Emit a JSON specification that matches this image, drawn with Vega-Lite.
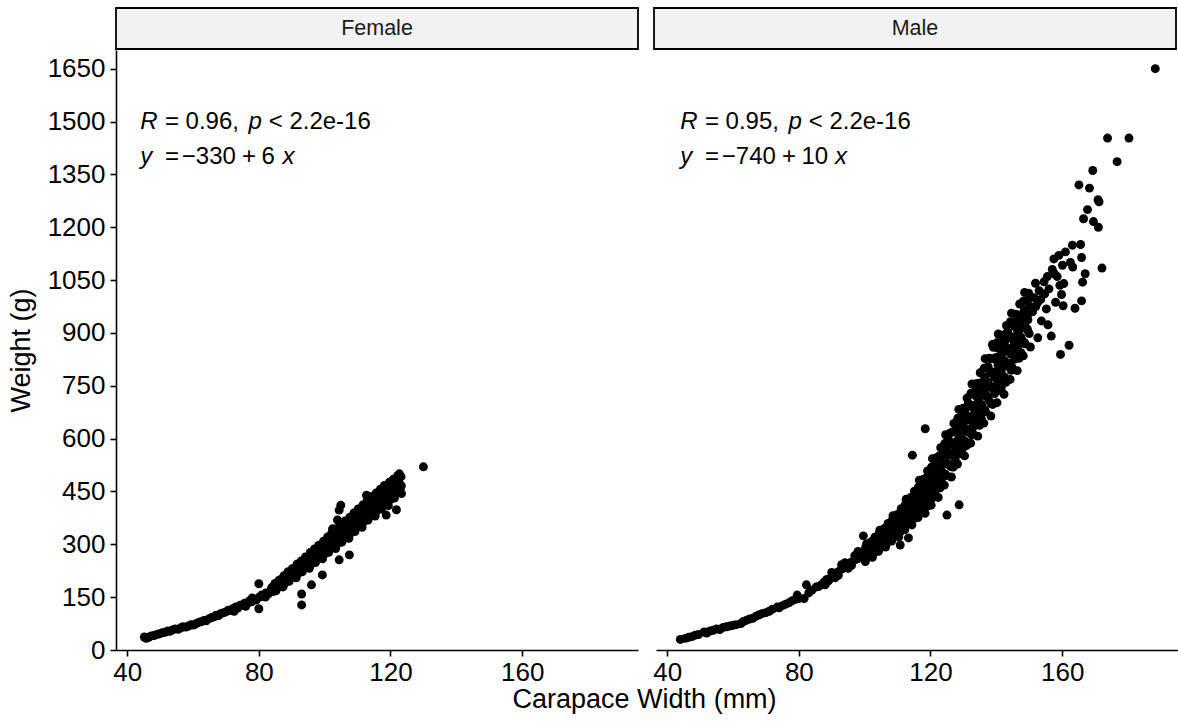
{
"$schema": "https://vega.github.io/schema/vega-lite/v6.json",
"background": "white",
"padding": {"left": 7, "right": 2, "top": 7, "bottom": 4},
"config": {
  "font": "Liberation Sans",
  "view": {"stroke": null},
  "axis": {"domainColor": "black", "domainWidth": 1.6, "tickColor": "black", "tickWidth": 1.6, "tickSize": 6, "labelColor": "black", "labelFontSize": 26, "titleFontSize": 27, "titleFontWeight": "normal", "titleColor": "black", "grid": false}
},
"title": {"text": "Carapace Width (mm)", "orient": "bottom", "anchor": "middle", "fontSize": 27, "fontWeight": "normal", "color": "black", "offset": 2, "dx": 52},
"datasets": {
"strips": [{"sex": "Female"}, {"sex": "Male"}],
"notes": [
{"sex":"F","kind":"var","cw":43.95,"wt":1500,"label":"R"},
{"sex":"F","kind":"txt","cw":51.45,"wt":1500,"label":"= 0.96,"},
{"sex":"F","kind":"var","cw":76.85,"wt":1500,"label":"p"},
{"sex":"F","kind":"txt","cw":83.0,"wt":1500,"label":"< 2.2e-16"},
{"sex":"F","kind":"var","cw":43.95,"wt":1400,"label":"y"},
{"sex":"F","kind":"txt","cw":51.45,"wt":1400,"label":"="},
{"sex":"F","kind":"txt","cw":56.6,"wt":1400,"label":"−330"},
{"sex":"F","kind":"txt","cw":74.9,"wt":1400,"label":"+"},
{"sex":"F","kind":"txt","cw":80.8,"wt":1400,"label":"6"},
{"sex":"F","kind":"var","cw":87.2,"wt":1400,"label":"x"},
{"sex":"M","kind":"var","cw":43.95,"wt":1500,"label":"R"},
{"sex":"M","kind":"txt","cw":51.45,"wt":1500,"label":"= 0.95,"},
{"sex":"M","kind":"var","cw":76.85,"wt":1500,"label":"p"},
{"sex":"M","kind":"txt","cw":83.0,"wt":1500,"label":"< 2.2e-16"},
{"sex":"M","kind":"var","cw":43.95,"wt":1400,"label":"y"},
{"sex":"M","kind":"txt","cw":51.45,"wt":1400,"label":"="},
{"sex":"M","kind":"txt","cw":56.6,"wt":1400,"label":"−740"},
{"sex":"M","kind":"txt","cw":74.9,"wt":1400,"label":"+"},
{"sex":"M","kind":"txt","cw":80.8,"wt":1400,"label":"10"},
{"sex":"M","kind":"var","cw":90.95,"wt":1400,"label":"x"}
],
"crabs": [
{"sex":"F","cw":45.2,"wt":37},{"sex":"F","cw":45.8,"wt":33},{"sex":"F","cw":46.5,"wt":36},{"sex":"F","cw":47.3,"wt":40},{"sex":"F","cw":48.2,"wt":41},{"sex":"F","cw":49,"wt":44},{"sex":"F","cw":49.8,"wt":46},{"sex":"F","cw":50.7,"wt":49},{"sex":"F","cw":51.5,"wt":50},{"sex":"F","cw":52.3,"wt":54},{"sex":"F","cw":53,"wt":53},{"sex":"F","cw":53.8,"wt":57},{"sex":"F","cw":54.6,"wt":60},{"sex":"F","cw":55.5,"wt":59},{"sex":"F","cw":56.3,"wt":63},{"sex":"F","cw":57,"wt":66},{"sex":"F","cw":57.8,"wt":65},{"sex":"F","cw":58.6,"wt":68},{"sex":"F","cw":59.4,"wt":72},{"sex":"F","cw":60.2,"wt":71},{"sex":"F","cw":61,"wt":75},{"sex":"F","cw":61.8,"wt":79},{"sex":"F","cw":62.5,"wt":80},{"sex":"F","cw":63.3,"wt":84},{"sex":"F","cw":64,"wt":83},{"sex":"F","cw":64.9,"wt":89},{"sex":"F","cw":65.6,"wt":92},{"sex":"F","cw":66.4,"wt":94},{"sex":"F","cw":67,"wt":99},{"sex":"F","cw":67.8,"wt":98},{"sex":"F","cw":68.5,"wt":104},{"sex":"F","cw":69.3,"wt":106},{"sex":"F","cw":70,"wt":108},{"sex":"F","cw":70.7,"wt":113},{"sex":"F","cw":71.5,"wt":112},{"sex":"F","cw":72.2,"wt":118},{"sex":"F","cw":73,"wt":122},{"sex":"F","cw":73.6,"wt":119},{"sex":"F","cw":74.3,"wt":127},{"sex":"F","cw":75,"wt":128},{"sex":"F","cw":75.7,"wt":133},{"sex":"F","cw":76.4,"wt":131},{"sex":"F","cw":77.1,"wt":139},{"sex":"F","cw":77.8,"wt":137},{"sex":"F","cw":78.5,"wt":144},{"sex":"F","cw":79.2,"wt":142},{"sex":"F","cw":80.1,"wt":150},{"sex":"F","cw":80,"wt":188},{"sex":"F","cw":80,"wt":117},{"sex":"F","cw":80.8,"wt":156},{"sex":"F","cw":81.5,"wt":152},{"sex":"F","cw":82.2,"wt":162},{"sex":"F","cw":83,"wt":160},{"sex":"F","cw":83.6,"wt":170},{"sex":"F","cw":84.3,"wt":166},{"sex":"F","cw":72.5,"wt":110},{"sex":"F","cw":76,"wt":124},{"sex":"F","cw":78,"wt":148},{"sex":"F","cw":82,"wt":150},{"sex":"F","cw":84,"wt":178},
{"sex":"F","cw":85.2,"wt":168},{"sex":"F","cw":84.7,"wt":175},{"sex":"F","cw":85.35,"wt":182},{"sex":"F","cw":84.9,"wt":189},
{"sex":"F","cw":85.75,"wt":177},{"sex":"F","cw":86.3,"wt":184},{"sex":"F","cw":85.95,"wt":192},{"sex":"F","cw":86.15,"wt":198},
{"sex":"F","cw":87.35,"wt":179},{"sex":"F","cw":87,"wt":187},{"sex":"F","cw":86.6,"wt":194},{"sex":"F","cw":87.2,"wt":203},
{"sex":"F","cw":87.9,"wt":190},{"sex":"F","cw":88.4,"wt":198},{"sex":"F","cw":88.15,"wt":206},{"sex":"F","cw":87.65,"wt":211},
{"sex":"F","cw":89.2,"wt":195},{"sex":"F","cw":88.7,"wt":204},{"sex":"F","cw":89.35,"wt":213},{"sex":"F","cw":88.9,"wt":222},
{"sex":"F","cw":89.75,"wt":205},{"sex":"F","cw":90.3,"wt":214},{"sex":"F","cw":89.95,"wt":224},{"sex":"F","cw":90.15,"wt":231},
{"sex":"F","cw":91.35,"wt":205},{"sex":"F","cw":91,"wt":214},{"sex":"F","cw":90.6,"wt":224},{"sex":"F","cw":91.2,"wt":234},
{"sex":"F","cw":91.9,"wt":217},{"sex":"F","cw":92.4,"wt":227},{"sex":"F","cw":92.15,"wt":237},{"sex":"F","cw":91.65,"wt":244},
{"sex":"F","cw":93.2,"wt":222},{"sex":"F","cw":92.7,"wt":232},{"sex":"F","cw":93.35,"wt":242},{"sex":"F","cw":92.9,"wt":253},
{"sex":"F","cw":93.75,"wt":234},{"sex":"F","cw":94.3,"wt":244},{"sex":"F","cw":93.95,"wt":255},{"sex":"F","cw":94.15,"wt":264},
{"sex":"F","cw":95.35,"wt":232},{"sex":"F","cw":95,"wt":243},{"sex":"F","cw":94.6,"wt":254},{"sex":"F","cw":95.2,"wt":266},
{"sex":"F","cw":95.9,"wt":244},{"sex":"F","cw":96.4,"wt":257},{"sex":"F","cw":96.15,"wt":268},{"sex":"F","cw":95.65,"wt":277},
{"sex":"F","cw":97.2,"wt":248},{"sex":"F","cw":96.7,"wt":262},{"sex":"F","cw":97.35,"wt":274},{"sex":"F","cw":96.9,"wt":287},
{"sex":"F","cw":97.75,"wt":262},{"sex":"F","cw":98.3,"wt":274},{"sex":"F","cw":97.95,"wt":287},{"sex":"F","cw":98.15,"wt":297},
{"sex":"F","cw":99.35,"wt":259},{"sex":"F","cw":99,"wt":272},{"sex":"F","cw":98.6,"wt":284},{"sex":"F","cw":99.2,"wt":298},
{"sex":"F","cw":99.9,"wt":272},{"sex":"F","cw":100.4,"wt":286},{"sex":"F","cw":100.15,"wt":300},{"sex":"F","cw":99.65,"wt":309},
{"sex":"F","cw":101.2,"wt":277},{"sex":"F","cw":100.7,"wt":292},{"sex":"F","cw":101.35,"wt":306},{"sex":"F","cw":100.9,"wt":321},
{"sex":"F","cw":101.75,"wt":290},{"sex":"F","cw":102.3,"wt":305},{"sex":"F","cw":101.95,"wt":320},{"sex":"F","cw":102.15,"wt":332},
{"sex":"F","cw":103.35,"wt":288},{"sex":"F","cw":103,"wt":302},{"sex":"F","cw":102.6,"wt":317},{"sex":"F","cw":103.2,"wt":332},
{"sex":"F","cw":103.9,"wt":302},{"sex":"F","cw":104.4,"wt":318},{"sex":"F","cw":104.15,"wt":333},{"sex":"F","cw":103.65,"wt":344},
{"sex":"F","cw":105.2,"wt":306},{"sex":"F","cw":104.7,"wt":323},{"sex":"F","cw":105.35,"wt":338},{"sex":"F","cw":104.9,"wt":355},
{"sex":"F","cw":105.75,"wt":321},{"sex":"F","cw":106.3,"wt":337},{"sex":"F","cw":105.95,"wt":353},{"sex":"F","cw":106.15,"wt":366},
{"sex":"F","cw":107.35,"wt":317},{"sex":"F","cw":107,"wt":333},{"sex":"F","cw":106.6,"wt":349},{"sex":"F","cw":107.2,"wt":366},
{"sex":"F","cw":107.9,"wt":332},{"sex":"F","cw":108.4,"wt":350},{"sex":"F","cw":108.15,"wt":366},{"sex":"F","cw":107.65,"wt":377},
{"sex":"F","cw":109.2,"wt":336},{"sex":"F","cw":108.7,"wt":354},{"sex":"F","cw":109.35,"wt":371},{"sex":"F","cw":108.9,"wt":389},
{"sex":"F","cw":109.75,"wt":352},{"sex":"F","cw":110.3,"wt":368},{"sex":"F","cw":109.95,"wt":387},{"sex":"F","cw":110.15,"wt":400},
{"sex":"F","cw":111.35,"wt":348},{"sex":"F","cw":111,"wt":364},{"sex":"F","cw":110.6,"wt":381},{"sex":"F","cw":111.2,"wt":399},
{"sex":"F","cw":111.9,"wt":364},{"sex":"F","cw":112.4,"wt":382},{"sex":"F","cw":112.15,"wt":399},{"sex":"F","cw":111.65,"wt":412},
{"sex":"F","cw":113.2,"wt":369},{"sex":"F","cw":112.7,"wt":387},{"sex":"F","cw":113.35,"wt":404},{"sex":"F","cw":112.9,"wt":423},
{"sex":"F","cw":113.75,"wt":385},{"sex":"F","cw":114.3,"wt":402},{"sex":"F","cw":113.95,"wt":422},{"sex":"F","cw":114.15,"wt":436},
{"sex":"F","cw":115.35,"wt":380},{"sex":"F","cw":115,"wt":398},{"sex":"F","cw":114.6,"wt":415},{"sex":"F","cw":115.2,"wt":434},
{"sex":"F","cw":115.9,"wt":396},{"sex":"F","cw":116.4,"wt":415},{"sex":"F","cw":116.15,"wt":433},{"sex":"F","cw":115.65,"wt":446},
{"sex":"F","cw":117.2,"wt":400},{"sex":"F","cw":116.7,"wt":419},{"sex":"F","cw":117.35,"wt":437},{"sex":"F","cw":116.9,"wt":456},
{"sex":"F","cw":117.75,"wt":416},{"sex":"F","cw":118.3,"wt":433},{"sex":"F","cw":117.95,"wt":453},{"sex":"F","cw":118.15,"wt":467},
{"sex":"F","cw":119.35,"wt":410},{"sex":"F","cw":119,"wt":428},{"sex":"F","cw":118.6,"wt":445},{"sex":"F","cw":119.2,"wt":464},
{"sex":"F","cw":119.9,"wt":426},{"sex":"F","cw":120.4,"wt":445},{"sex":"F","cw":120.15,"wt":463},{"sex":"F","cw":119.65,"wt":476},
{"sex":"F","cw":121.2,"wt":431},{"sex":"F","cw":120.7,"wt":449},{"sex":"F","cw":121.35,"wt":466},{"sex":"F","cw":120.9,"wt":485},
{"sex":"F","cw":121.75,"wt":447},{"sex":"F","cw":122.3,"wt":463},{"sex":"F","cw":121.95,"wt":482},{"sex":"F","cw":122.15,"wt":495},
{"sex":"F","cw":123.35,"wt":444},{"sex":"F","cw":123,"wt":459},{"sex":"F","cw":122.6,"wt":475},{"sex":"F","cw":123.2,"wt":492},
{"sex":"F","cw":93,"wt":159},{"sex":"F","cw":93,"wt":128},{"sex":"F","cw":102.4,"wt":344},{"sex":"F","cw":103.9,"wt":369},{"sex":"F","cw":104.4,"wt":397},{"sex":"F","cw":104.9,"wt":411},{"sex":"F","cw":112.7,"wt":439},{"sex":"F","cw":107.5,"wt":270},{"sex":"F","cw":104.4,"wt":256},{"sex":"F","cw":99.3,"wt":213},{"sex":"F","cw":96,"wt":185},{"sex":"F","cw":118.7,"wt":383},{"sex":"F","cw":121.8,"wt":398},{"sex":"F","cw":122.7,"wt":500},{"sex":"F","cw":123.3,"wt":466},{"sex":"F","cw":130,"wt":520},
{"sex":"M","cw":44,"wt":30},{"sex":"M","cw":45.5,"wt":33},{"sex":"M","cw":46.5,"wt":36},{"sex":"M","cw":47.5,"wt":38},{"sex":"M","cw":48.5,"wt":42},{"sex":"M","cw":49.5,"wt":44},{"sex":"M","cw":51.2,"wt":51},{"sex":"M","cw":52,"wt":48},{"sex":"M","cw":53,"wt":54},{"sex":"M","cw":54,"wt":56},{"sex":"M","cw":55,"wt":60},{"sex":"M","cw":56,"wt":58},{"sex":"M","cw":57,"wt":64},{"sex":"M","cw":58,"wt":66},{"sex":"M","cw":59,"wt":68},{"sex":"M","cw":60,"wt":70},{"sex":"M","cw":61,"wt":72},{"sex":"M","cw":62.4,"wt":75},{"sex":"M","cw":63,"wt":80},{"sex":"M","cw":64,"wt":84},{"sex":"M","cw":65,"wt":88},{"sex":"M","cw":66,"wt":90},{"sex":"M","cw":67,"wt":96},{"sex":"M","cw":68,"wt":100},{"sex":"M","cw":69,"wt":104},{"sex":"M","cw":70,"wt":106},{"sex":"M","cw":71,"wt":110},{"sex":"M","cw":72,"wt":116},{"sex":"M","cw":73.5,"wt":122},{"sex":"M","cw":74,"wt":120},{"sex":"M","cw":75,"wt":126},{"sex":"M","cw":76,"wt":130},{"sex":"M","cw":77,"wt":134},{"sex":"M","cw":78,"wt":140},{"sex":"M","cw":79,"wt":144},{"sex":"M","cw":79.5,"wt":156},{"sex":"M","cw":80,"wt":146},{"sex":"M","cw":81.6,"wt":146},{"sex":"M","cw":82.3,"wt":185},{"sex":"M","cw":83,"wt":162},{"sex":"M","cw":84,"wt":170},{"sex":"M","cw":85.3,"wt":179},{"sex":"M","cw":86,"wt":180},{"sex":"M","cw":87,"wt":186},{"sex":"M","cw":87.7,"wt":193},{"sex":"M","cw":88.5,"wt":200},{"sex":"M","cw":89,"wt":196},{"sex":"M","cw":90,"wt":208},{"sex":"M","cw":91,"wt":216},{"sex":"M","cw":92,"wt":222},{"sex":"M","cw":93,"wt":230},{"sex":"M","cw":94,"wt":236},{"sex":"M","cw":95,"wt":244},{"sex":"M","cw":96,"wt":250},{"sex":"M","cw":97,"wt":256},{"sex":"M","cw":97.8,"wt":259},{"sex":"M","cw":98.5,"wt":268},{"sex":"M","cw":99,"wt":274},{"sex":"M","cw":99.6,"wt":324},
{"sex":"M","cw":88,"wt":185},{"sex":"M","cw":90,"wt":220},{"sex":"M","cw":92,"wt":212},{"sex":"M","cw":94,"wt":248},{"sex":"M","cw":96,"wt":240},{"sex":"M","cw":98,"wt":280},{"sex":"M","cw":99,"wt":262},{"sex":"M","cw":95,"wt":232},{"sex":"M","cw":91,"wt":205},{"sex":"M","cw":93,"wt":242},{"sex":"M","cw":97,"wt":268},
{"sex":"M","cw":100.2,"wt":251},{"sex":"M","cw":99.7,"wt":262},{"sex":"M","cw":100.4,"wt":272},{"sex":"M","cw":99.9,"wt":281},{"sex":"M","cw":100.3,"wt":291},
{"sex":"M","cw":100.75,"wt":263},{"sex":"M","cw":101.35,"wt":274},{"sex":"M","cw":100.95,"wt":285},{"sex":"M","cw":101.2,"wt":295},{"sex":"M","cw":100.6,"wt":302},
{"sex":"M","cw":102.35,"wt":263},{"sex":"M","cw":102,"wt":274},{"sex":"M","cw":101.6,"wt":285},{"sex":"M","cw":102.25,"wt":295},{"sex":"M","cw":101.85,"wt":306},
{"sex":"M","cw":102.9,"wt":276},{"sex":"M","cw":103.45,"wt":288},{"sex":"M","cw":103.15,"wt":300},{"sex":"M","cw":102.65,"wt":311},{"sex":"M","cw":103.1,"wt":320},
{"sex":"M","cw":104.2,"wt":280},{"sex":"M","cw":103.7,"wt":293},{"sex":"M","cw":104.4,"wt":305},{"sex":"M","cw":103.9,"wt":316},{"sex":"M","cw":104.3,"wt":328},
{"sex":"M","cw":104.75,"wt":292},{"sex":"M","cw":105.35,"wt":306},{"sex":"M","cw":104.95,"wt":319},{"sex":"M","cw":105.2,"wt":332},{"sex":"M","cw":104.6,"wt":340},
{"sex":"M","cw":106.35,"wt":292},{"sex":"M","cw":106,"wt":305},{"sex":"M","cw":105.6,"wt":318},{"sex":"M","cw":106.25,"wt":331},{"sex":"M","cw":105.85,"wt":344},
{"sex":"M","cw":106.9,"wt":305},{"sex":"M","cw":107.45,"wt":321},{"sex":"M","cw":107.15,"wt":335},{"sex":"M","cw":106.65,"wt":349},{"sex":"M","cw":107.1,"wt":359},
{"sex":"M","cw":108.2,"wt":309},{"sex":"M","cw":107.7,"wt":325},{"sex":"M","cw":108.4,"wt":340},{"sex":"M","cw":107.9,"wt":352},{"sex":"M","cw":108.3,"wt":367},
{"sex":"M","cw":108.75,"wt":323},{"sex":"M","cw":109.35,"wt":340},{"sex":"M","cw":108.95,"wt":356},{"sex":"M","cw":109.2,"wt":371},{"sex":"M","cw":108.6,"wt":381},
{"sex":"M","cw":110.35,"wt":321},{"sex":"M","cw":110,"wt":337},{"sex":"M","cw":109.6,"wt":353},{"sex":"M","cw":110.25,"wt":368},{"sex":"M","cw":109.85,"wt":384},
{"sex":"M","cw":110.9,"wt":336},{"sex":"M","cw":111.45,"wt":355},{"sex":"M","cw":111.15,"wt":372},{"sex":"M","cw":110.65,"wt":388},{"sex":"M","cw":111.1,"wt":401},
{"sex":"M","cw":112.2,"wt":342},{"sex":"M","cw":111.7,"wt":361},{"sex":"M","cw":112.4,"wt":379},{"sex":"M","cw":111.9,"wt":395},{"sex":"M","cw":112.3,"wt":412},
{"sex":"M","cw":112.75,"wt":358},{"sex":"M","cw":113.35,"wt":379},{"sex":"M","cw":112.95,"wt":397},{"sex":"M","cw":113.2,"wt":416},{"sex":"M","cw":112.6,"wt":428},
{"sex":"M","cw":114.35,"wt":355},{"sex":"M","cw":114,"wt":374},{"sex":"M","cw":113.6,"wt":394},{"sex":"M","cw":114.25,"wt":413},{"sex":"M","cw":113.85,"wt":432},
{"sex":"M","cw":114.9,"wt":372},{"sex":"M","cw":115.45,"wt":395},{"sex":"M","cw":115.15,"wt":415},{"sex":"M","cw":114.65,"wt":435},{"sex":"M","cw":115.1,"wt":451},
{"sex":"M","cw":116.2,"wt":376},{"sex":"M","cw":115.7,"wt":400},{"sex":"M","cw":116.4,"wt":421},{"sex":"M","cw":115.9,"wt":441},{"sex":"M","cw":116.3,"wt":462},
{"sex":"M","cw":116.75,"wt":395},{"sex":"M","cw":117.35,"wt":421},{"sex":"M","cw":116.95,"wt":444},{"sex":"M","cw":117.2,"wt":467},{"sex":"M","cw":116.6,"wt":482},
{"sex":"M","cw":118.35,"wt":388},{"sex":"M","cw":118,"wt":412},{"sex":"M","cw":117.6,"wt":437},{"sex":"M","cw":118.25,"wt":461},{"sex":"M","cw":117.85,"wt":485},
{"sex":"M","cw":118.9,"wt":408},{"sex":"M","cw":119.45,"wt":437},{"sex":"M","cw":119.15,"wt":463},{"sex":"M","cw":118.65,"wt":488},{"sex":"M","cw":119.1,"wt":508},
{"sex":"M","cw":120.2,"wt":411},{"sex":"M","cw":119.7,"wt":441},{"sex":"M","cw":120.4,"wt":468},{"sex":"M","cw":119.9,"wt":492},{"sex":"M","cw":120.3,"wt":519},
{"sex":"M","cw":120.75,"wt":438},{"sex":"M","cw":121.35,"wt":469},{"sex":"M","cw":120.95,"wt":497},{"sex":"M","cw":121.2,"wt":524},{"sex":"M","cw":120.6,"wt":543},
{"sex":"M","cw":122.35,"wt":433},{"sex":"M","cw":122,"wt":461},{"sex":"M","cw":121.6,"wt":490},{"sex":"M","cw":122.25,"wt":518},{"sex":"M","cw":121.85,"wt":546},
{"sex":"M","cw":122.9,"wt":460},{"sex":"M","cw":123.45,"wt":492},{"sex":"M","cw":123.15,"wt":522},{"sex":"M","cw":122.65,"wt":551},{"sex":"M","cw":123.1,"wt":574},
{"sex":"M","cw":124.2,"wt":468},{"sex":"M","cw":123.7,"wt":501},{"sex":"M","cw":124.4,"wt":530},{"sex":"M","cw":123.9,"wt":557},{"sex":"M","cw":124.3,"wt":586},
{"sex":"M","cw":124.75,"wt":495},{"sex":"M","cw":125.35,"wt":529},{"sex":"M","cw":124.95,"wt":560},{"sex":"M","cw":125.2,"wt":591},{"sex":"M","cw":124.6,"wt":611},
{"sex":"M","cw":126.35,"wt":491},{"sex":"M","cw":126,"wt":522},{"sex":"M","cw":125.6,"wt":553},{"sex":"M","cw":126.25,"wt":584},{"sex":"M","cw":125.85,"wt":615},
{"sex":"M","cw":126.9,"wt":519},{"sex":"M","cw":127.45,"wt":555},{"sex":"M","cw":127.15,"wt":587},{"sex":"M","cw":126.65,"wt":619},{"sex":"M","cw":127.1,"wt":643},
{"sex":"M","cw":128.2,"wt":528},{"sex":"M","cw":127.7,"wt":564},{"sex":"M","cw":128.4,"wt":597},{"sex":"M","cw":127.9,"wt":625},{"sex":"M","cw":128.3,"wt":658},
{"sex":"M","cw":128.75,"wt":557},{"sex":"M","cw":129.35,"wt":594},{"sex":"M","cw":128.95,"wt":628},{"sex":"M","cw":129.2,"wt":661},{"sex":"M","cw":128.6,"wt":683},
{"sex":"M","cw":130.35,"wt":551},{"sex":"M","cw":130,"wt":585},{"sex":"M","cw":129.6,"wt":618},{"sex":"M","cw":130.25,"wt":652},{"sex":"M","cw":129.85,"wt":686},
{"sex":"M","cw":130.9,"wt":580},{"sex":"M","cw":131.45,"wt":619},{"sex":"M","cw":131.15,"wt":654},{"sex":"M","cw":130.65,"wt":688},{"sex":"M","cw":131.1,"wt":715},
{"sex":"M","cw":132.2,"wt":587},{"sex":"M","cw":131.7,"wt":626},{"sex":"M","cw":132.4,"wt":662},{"sex":"M","cw":131.9,"wt":694},{"sex":"M","cw":132.3,"wt":729},
{"sex":"M","cw":132.75,"wt":617},{"sex":"M","cw":133.35,"wt":658},{"sex":"M","cw":132.95,"wt":694},{"sex":"M","cw":133.2,"wt":731},{"sex":"M","cw":132.6,"wt":755},
{"sex":"M","cw":134.35,"wt":607},{"sex":"M","cw":134,"wt":644},{"sex":"M","cw":133.6,"wt":682},{"sex":"M","cw":134.25,"wt":719},{"sex":"M","cw":133.85,"wt":756},
{"sex":"M","cw":134.9,"wt":638},{"sex":"M","cw":135.45,"wt":681},{"sex":"M","cw":135.15,"wt":719},{"sex":"M","cw":134.65,"wt":757},{"sex":"M","cw":135.1,"wt":787},
{"sex":"M","cw":136.2,"wt":644},{"sex":"M","cw":135.7,"wt":687},{"sex":"M","cw":136.4,"wt":726},{"sex":"M","cw":135.9,"wt":761},{"sex":"M","cw":136.3,"wt":800},
{"sex":"M","cw":136.75,"wt":676},{"sex":"M","cw":137.35,"wt":720},{"sex":"M","cw":136.95,"wt":760},{"sex":"M","cw":137.2,"wt":800},{"sex":"M","cw":136.6,"wt":827},
{"sex":"M","cw":138.35,"wt":664},{"sex":"M","cw":138,"wt":705},{"sex":"M","cw":137.6,"wt":746},{"sex":"M","cw":138.25,"wt":787},{"sex":"M","cw":137.85,"wt":828},
{"sex":"M","cw":138.9,"wt":697},{"sex":"M","cw":139.45,"wt":743},{"sex":"M","cw":139.15,"wt":785},{"sex":"M","cw":138.65,"wt":827},{"sex":"M","cw":139.1,"wt":859},
{"sex":"M","cw":140.2,"wt":702},{"sex":"M","cw":139.7,"wt":749},{"sex":"M","cw":140.4,"wt":792},{"sex":"M","cw":139.9,"wt":830},{"sex":"M","cw":140.3,"wt":873},
{"sex":"M","cw":140.75,"wt":737},{"sex":"M","cw":141.35,"wt":784},{"sex":"M","cw":140.95,"wt":827},{"sex":"M","cw":141.2,"wt":869},{"sex":"M","cw":140.6,"wt":897},
{"sex":"M","cw":142.35,"wt":726},{"sex":"M","cw":142,"wt":768},{"sex":"M","cw":141.6,"wt":810},{"sex":"M","cw":142.25,"wt":852},{"sex":"M","cw":141.85,"wt":893},
{"sex":"M","cw":142.9,"wt":760},{"sex":"M","cw":143.45,"wt":806},{"sex":"M","cw":143.15,"wt":848},{"sex":"M","cw":142.65,"wt":889},{"sex":"M","cw":143.1,"wt":921},
{"sex":"M","cw":144.2,"wt":768},{"sex":"M","cw":143.7,"wt":814},{"sex":"M","cw":144.4,"wt":855},{"sex":"M","cw":143.9,"wt":891},{"sex":"M","cw":144.3,"wt":932},
{"sex":"M","cw":144.75,"wt":803},{"sex":"M","cw":145.35,"wt":848},{"sex":"M","cw":144.95,"wt":888},{"sex":"M","cw":145.2,"wt":929},{"sex":"M","cw":144.6,"wt":956},
{"sex":"M","cw":146.35,"wt":793},{"sex":"M","cw":146,"wt":833},{"sex":"M","cw":145.6,"wt":873},{"sex":"M","cw":146.25,"wt":913},{"sex":"M","cw":145.85,"wt":953},
{"sex":"M","cw":146.9,"wt":828},{"sex":"M","cw":147.45,"wt":872},{"sex":"M","cw":147.15,"wt":911},{"sex":"M","cw":146.65,"wt":951},{"sex":"M","cw":147.1,"wt":982},
{"sex":"M","cw":148.2,"wt":835},{"sex":"M","cw":147.7,"wt":878},{"sex":"M","cw":148.4,"wt":917},{"sex":"M","cw":147.9,"wt":952},{"sex":"M","cw":148.3,"wt":991},
{"sex":"M","cw":148.75,"wt":869},{"sex":"M","cw":149.35,"wt":912},{"sex":"M","cw":148.95,"wt":951},{"sex":"M","cw":149.2,"wt":989},{"sex":"M","cw":148.6,"wt":1015},
{"sex":"M","cw":150.35,"wt":860},{"sex":"M","cw":150,"wt":898},{"sex":"M","cw":149.6,"wt":937},{"sex":"M","cw":150.25,"wt":975},{"sex":"M","cw":149.85,"wt":1013},
{"sex":"M","cw":100.5,"wt":263},{"sex":"M","cw":100.5,"wt":274},{"sex":"M","cw":100.5,"wt":286},{"sex":"M","cw":101.5,"wt":275},{"sex":"M","cw":101.5,"wt":286},{"sex":"M","cw":101.5,"wt":298},{"sex":"M","cw":102.5,"wt":275},{"sex":"M","cw":102.5,"wt":287},{"sex":"M","cw":102.5,"wt":299},{"sex":"M","cw":103.5,"wt":286},{"sex":"M","cw":103.5,"wt":299},{"sex":"M","cw":103.5,"wt":312},{"sex":"M","cw":104.5,"wt":299},{"sex":"M","cw":104.5,"wt":312},{"sex":"M","cw":104.5,"wt":326},{"sex":"M","cw":105.5,"wt":297},{"sex":"M","cw":105.5,"wt":311},{"sex":"M","cw":105.5,"wt":325},{"sex":"M","cw":106.5,"wt":310},{"sex":"M","cw":106.5,"wt":324},{"sex":"M","cw":106.5,"wt":340},{"sex":"M","cw":107.5,"wt":323},{"sex":"M","cw":107.5,"wt":339},{"sex":"M","cw":107.5,"wt":354},{"sex":"M","cw":108.5,"wt":320},{"sex":"M","cw":108.5,"wt":336},{"sex":"M","cw":108.5,"wt":352},{"sex":"M","cw":109.5,"wt":333},{"sex":"M","cw":109.5,"wt":350},{"sex":"M","cw":109.5,"wt":368},
{"sex":"M","cw":110.5,"wt":349},{"sex":"M","cw":110.5,"wt":366},{"sex":"M","cw":110.5,"wt":384},{"sex":"M","cw":111.5,"wt":346},{"sex":"M","cw":111.5,"wt":364},{"sex":"M","cw":111.5,"wt":383},{"sex":"M","cw":112.5,"wt":361},{"sex":"M","cw":112.5,"wt":380},{"sex":"M","cw":112.5,"wt":401},{"sex":"M","cw":113.5,"wt":378},{"sex":"M","cw":113.5,"wt":399},{"sex":"M","cw":113.5,"wt":419},{"sex":"M","cw":114.5,"wt":373},{"sex":"M","cw":114.5,"wt":394},{"sex":"M","cw":114.5,"wt":416},{"sex":"M","cw":115.5,"wt":389},{"sex":"M","cw":115.5,"wt":411},{"sex":"M","cw":115.5,"wt":436},{"sex":"M","cw":116.5,"wt":408},{"sex":"M","cw":116.5,"wt":432},{"sex":"M","cw":116.5,"wt":456},{"sex":"M","cw":117.5,"wt":401},{"sex":"M","cw":117.5,"wt":426},{"sex":"M","cw":117.5,"wt":452},{"sex":"M","cw":118.5,"wt":418},{"sex":"M","cw":118.5,"wt":445},{"sex":"M","cw":118.5,"wt":475},{"sex":"M","cw":119.5,"wt":440},{"sex":"M","cw":119.5,"wt":468},{"sex":"M","cw":119.5,"wt":497},
{"sex":"M","cw":120.5,"wt":431},{"sex":"M","cw":120.5,"wt":461},{"sex":"M","cw":120.5,"wt":491},{"sex":"M","cw":121.5,"wt":454},{"sex":"M","cw":121.5,"wt":485},{"sex":"M","cw":121.5,"wt":520},{"sex":"M","cw":122.5,"wt":482},{"sex":"M","cw":122.5,"wt":513},{"sex":"M","cw":122.5,"wt":545},{"sex":"M","cw":123.5,"wt":474},{"sex":"M","cw":123.5,"wt":506},{"sex":"M","cw":123.5,"wt":539},{"sex":"M","cw":124.5,"wt":499},{"sex":"M","cw":124.5,"wt":532},{"sex":"M","cw":124.5,"wt":568},{"sex":"M","cw":125.5,"wt":528},{"sex":"M","cw":125.5,"wt":562},{"sex":"M","cw":125.5,"wt":596},{"sex":"M","cw":126.5,"wt":520},{"sex":"M","cw":126.5,"wt":554},{"sex":"M","cw":126.5,"wt":589},{"sex":"M","cw":127.5,"wt":545},{"sex":"M","cw":127.5,"wt":581},{"sex":"M","cw":127.5,"wt":620},{"sex":"M","cw":128.5,"wt":576},{"sex":"M","cw":128.5,"wt":612},{"sex":"M","cw":128.5,"wt":648},{"sex":"M","cw":129.5,"wt":566},{"sex":"M","cw":129.5,"wt":603},{"sex":"M","cw":129.5,"wt":640},
{"sex":"M","cw":130.5,"wt":593},{"sex":"M","cw":130.5,"wt":630},{"sex":"M","cw":130.5,"wt":672},{"sex":"M","cw":131.5,"wt":623},{"sex":"M","cw":131.5,"wt":662},{"sex":"M","cw":131.5,"wt":700},{"sex":"M","cw":132.5,"wt":611},{"sex":"M","cw":132.5,"wt":650},{"sex":"M","cw":132.5,"wt":690},{"sex":"M","cw":133.5,"wt":637},{"sex":"M","cw":133.5,"wt":678},{"sex":"M","cw":133.5,"wt":723},{"sex":"M","cw":134.5,"wt":669},{"sex":"M","cw":134.5,"wt":710},{"sex":"M","cw":134.5,"wt":752},{"sex":"M","cw":135.5,"wt":655},{"sex":"M","cw":135.5,"wt":697},{"sex":"M","cw":135.5,"wt":740},{"sex":"M","cw":136.5,"wt":682},{"sex":"M","cw":136.5,"wt":726},{"sex":"M","cw":136.5,"wt":774},{"sex":"M","cw":137.5,"wt":715},{"sex":"M","cw":137.5,"wt":760},{"sex":"M","cw":137.5,"wt":804},{"sex":"M","cw":138.5,"wt":699},{"sex":"M","cw":138.5,"wt":745},{"sex":"M","cw":138.5,"wt":790},{"sex":"M","cw":139.5,"wt":728},{"sex":"M","cw":139.5,"wt":774},{"sex":"M","cw":139.5,"wt":826},
{"sex":"M","cw":140.5,"wt":762},{"sex":"M","cw":140.5,"wt":809},{"sex":"M","cw":140.5,"wt":857},{"sex":"M","cw":141.5,"wt":745},{"sex":"M","cw":141.5,"wt":792},{"sex":"M","cw":141.5,"wt":839},{"sex":"M","cw":142.5,"wt":775},{"sex":"M","cw":142.5,"wt":822},{"sex":"M","cw":142.5,"wt":873},{"sex":"M","cw":143.5,"wt":810},{"sex":"M","cw":143.5,"wt":856},{"sex":"M","cw":143.5,"wt":902},{"sex":"M","cw":144.5,"wt":794},{"sex":"M","cw":144.5,"wt":840},{"sex":"M","cw":144.5,"wt":885},{"sex":"M","cw":145.5,"wt":825},{"sex":"M","cw":145.5,"wt":870},{"sex":"M","cw":145.5,"wt":919},{"sex":"M","cw":146.5,"wt":859},{"sex":"M","cw":146.5,"wt":903},{"sex":"M","cw":146.5,"wt":948},{"sex":"M","cw":147.5,"wt":844},{"sex":"M","cw":147.5,"wt":888},{"sex":"M","cw":147.5,"wt":932},{"sex":"M","cw":148.5,"wt":873},{"sex":"M","cw":148.5,"wt":917},{"sex":"M","cw":148.5,"wt":965},{"sex":"M","cw":149.5,"wt":907},{"sex":"M","cw":149.5,"wt":950},{"sex":"M","cw":149.5,"wt":993},
{"sex":"M","cw":151,"wt":960},{"sex":"M","cw":151.5,"wt":1000},{"sex":"M","cw":152,"wt":975},{"sex":"M","cw":153,"wt":1020},{"sex":"M","cw":153.5,"wt":995},{"sex":"M","cw":154.5,"wt":1045},{"sex":"M","cw":155.5,"wt":1060},{"sex":"M","cw":156,"wt":1025},{"sex":"M","cw":157,"wt":1080},{"sex":"M","cw":157.5,"wt":1110},{"sex":"M","cw":158.5,"wt":1060},{"sex":"M","cw":159,"wt":1120},{"sex":"M","cw":160.5,"wt":1040},{"sex":"M","cw":161,"wt":1130},{"sex":"M","cw":162.5,"wt":1100},
{"sex":"M","cw":110.8,"wt":298},{"sex":"M","cw":113.3,"wt":318},{"sex":"M","cw":114.5,"wt":553},{"sex":"M","cw":118.4,"wt":628},{"sex":"M","cw":125,"wt":383},{"sex":"M","cw":128.7,"wt":412},
{"sex":"M","cw":173.8,"wt":1453},{"sex":"M","cw":180.3,"wt":1453},{"sex":"M","cw":176.7,"wt":1386},{"sex":"M","cw":169.3,"wt":1361},{"sex":"M","cw":165.1,"wt":1320},{"sex":"M","cw":168.3,"wt":1311},{"sex":"M","cw":170.9,"wt":1278},{"sex":"M","cw":171.2,"wt":1272},{"sex":"M","cw":167.7,"wt":1250},{"sex":"M","cw":166.5,"wt":1224},{"sex":"M","cw":169.5,"wt":1216},{"sex":"M","cw":171,"wt":1200},{"sex":"M","cw":163.1,"wt":1149},{"sex":"M","cw":165.6,"wt":1151},{"sex":"M","cw":165.9,"wt":1114},{"sex":"M","cw":172.1,"wt":1084},{"sex":"M","cw":160.1,"wt":1092},{"sex":"M","cw":163.2,"wt":1087},{"sex":"M","cw":157.6,"wt":1068},{"sex":"M","cw":167,"wt":1068},{"sex":"M","cw":166.2,"wt":1044},{"sex":"M","cw":151.9,"wt":1041},{"sex":"M","cw":154.7,"wt":1011},{"sex":"M","cw":159.3,"wt":1035},{"sex":"M","cw":159.8,"wt":1009},{"sex":"M","cw":152.6,"wt":987},{"sex":"M","cw":158,"wt":987},{"sex":"M","cw":160.3,"wt":977},{"sex":"M","cw":163.9,"wt":970},{"sex":"M","cw":165.9,"wt":991},{"sex":"M","cw":155.2,"wt":968},{"sex":"M","cw":148,"wt":949},{"sex":"M","cw":148.6,"wt":925},{"sex":"M","cw":153.7,"wt":934},{"sex":"M","cw":155.7,"wt":923},{"sex":"M","cw":142.9,"wt":898},{"sex":"M","cw":152.6,"wt":886},{"sex":"M","cw":156.7,"wt":891},{"sex":"M","cw":162.1,"wt":865},{"sex":"M","cw":159.5,"wt":839},{"sex":"M","cw":138.8,"wt":867},{"sex":"M","cw":188.3,"wt":1650}
]
},
"vconcat": [
  {"hconcat": [
    {"width": 522, "height": 41, "data": {"name": "strips"}, "transform": [{"filter": "datum.sex == 'Female'"}],
     "view": {"fill": "#f2f2f2", "stroke": "black", "strokeWidth": 1.8},
     "mark": {"type": "text", "fontSize": 21.5, "color": "#1a1a1a", "baseline": "middle", "align": "center"},
     "encoding": {"text": {"field": "sex"}}},
    {"width": 522, "height": 41, "data": {"name": "strips"}, "transform": [{"filter": "datum.sex == 'Male'"}],
     "view": {"fill": "#f2f2f2", "stroke": "black", "strokeWidth": 1.8},
     "mark": {"type": "text", "fontSize": 21.5, "color": "#1a1a1a", "baseline": "middle", "align": "center"},
     "encoding": {"text": {"field": "sex"}}}
  ], "spacing": 14},
  {"hconcat": [
    {"width": 522, "height": 600,
     "layer": [
       {"data": {"name": "crabs"}, "transform": [{"filter": "datum.sex == 'F'"}],
        "mark": {"type": "circle", "size": 80, "color": "black", "opacity": 1},
        "encoding": {
          "x": {"field": "cw", "type": "quantitative", "scale": {"domain": [36.6, 195.2], "nice": false, "zero": false}, "axis": {"values": [40, 80, 120, 160], "title": null, "labelPadding": 3}},
          "y": {"field": "wt", "type": "quantitative", "scale": {"domain": [0, 1703], "nice": false}, "axis": {"values": [0, 150, 300, 450, 600, 750, 900, 1050, 1200, 1350, 1500, 1650], "format": "d", "title": "Weight (g)", "titlePadding": 12, "labelPadding": 5}}
        }},
       {"data": {"name": "notes"}, "transform": [{"filter": "datum.sex == 'F' && datum.kind == 'var'"}],
        "mark": {"type": "text", "align": "left", "baseline": "middle", "fontStyle": "italic", "fontSize": 24, "color": "black"},
        "encoding": {"x": {"field": "cw", "type": "quantitative"}, "y": {"field": "wt", "type": "quantitative"}, "text": {"field": "label"}}},
       {"data": {"name": "notes"}, "transform": [{"filter": "datum.sex == 'F' && datum.kind == 'txt'"}],
        "mark": {"type": "text", "align": "left", "baseline": "middle", "fontSize": 24, "color": "black"},
        "encoding": {"x": {"field": "cw", "type": "quantitative"}, "y": {"field": "wt", "type": "quantitative"}, "text": {"field": "label"}}}
     ]},
    {"width": 522, "height": 600,
     "layer": [
       {"data": {"name": "crabs"}, "transform": [{"filter": "datum.sex == 'M'"}],
        "mark": {"type": "circle", "size": 80, "color": "black", "opacity": 1},
        "encoding": {
          "x": {"field": "cw", "type": "quantitative", "scale": {"domain": [36.6, 195.2], "nice": false, "zero": false}, "axis": {"values": [40, 80, 120, 160], "title": null, "labelPadding": 3}},
          "y": {"field": "wt", "type": "quantitative", "scale": {"domain": [0, 1703], "nice": false}, "axis": null}
        }},
       {"data": {"name": "notes"}, "transform": [{"filter": "datum.sex == 'M' && datum.kind == 'var'"}],
        "mark": {"type": "text", "align": "left", "baseline": "middle", "fontStyle": "italic", "fontSize": 24, "color": "black"},
        "encoding": {"x": {"field": "cw", "type": "quantitative"}, "y": {"field": "wt", "type": "quantitative"}, "text": {"field": "label"}}},
       {"data": {"name": "notes"}, "transform": [{"filter": "datum.sex == 'M' && datum.kind == 'txt'"}],
        "mark": {"type": "text", "align": "left", "baseline": "middle", "fontSize": 24, "color": "black"},
        "encoding": {"x": {"field": "cw", "type": "quantitative"}, "y": {"field": "wt", "type": "quantitative"}, "text": {"field": "label"}}}
     ]}
  ], "spacing": 14}
],
"spacing": 0
}
